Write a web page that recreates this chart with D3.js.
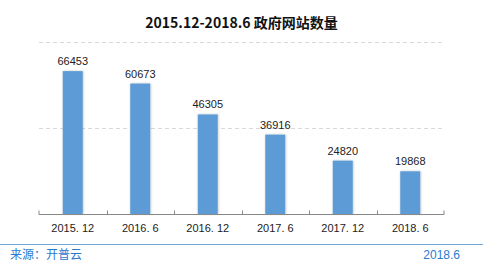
<!DOCTYPE html>
<html>
<head>
<meta charset="utf-8">
<script src="https://cdn.jsdelivr.net/npm/d3@7"></script>
<style>
  html, body { margin: 0; padding: 0; background: #fff; }
  svg { display: block; }
</style>
</head>
<body>
<div id="chart"></div>
<script>
// data
const categories = ['2015. 12', '2016. 6', '2016. 12', '2017. 6', '2017. 12', '2018. 6'];
const siteCounts = [66453, 60673, 46305, 36916, 24820, 19868];
const gridValues = [40000, 80000];
const titleText = '2015.12-2018.6 政府网站数量';
const sourceText = '来源：开普云';
const dateText = '2018.6';

const width = 483, height = 265;
const margin = { top: 42, bottom: 51, left: 39, right: 39 };
const font = '"Noto Sans CJK SC", "DejaVu Sans", sans-serif';

const svg = d3.select('#chart').append('svg')
  .attr('width', width)
  .attr('height', height);

// scales
const xScale = d3.scaleBand()
  .domain(categories)
  .range([margin.left, width - margin.right])
  .paddingInner(0)
  .paddingOuter(0);
const yScale = d3.scaleLinear()
  .domain([0, 80000])
  .range([height - margin.bottom, margin.top]);

// title
svg.append('text')
  .attr('x', width / 2)
  .attr('y', 28)
  .attr('text-anchor', 'middle')
  .attr('font-family', font)
  .attr('font-weight', 'bold')
  .attr('font-size', '14px')
  .attr('fill', '#111')
  .text(titleText);

// grid
svg.append('g')
  .selectAll('line')
  .data(gridValues)
  .enter()
  .append('line')
  .attr('x1', margin.left)
  .attr('x2', width - margin.right)
  .attr('y1', d => Math.round(yScale(d)) + 0.5)
  .attr('y2', d => Math.round(yScale(d)) + 0.5)
  .attr('stroke', '#d9d9d9')
  .attr('stroke-width', 1)
  .attr('stroke-dasharray', '4,3');

// bar shadow
const defs = svg.append('defs');
const filter = defs.append('filter')
  .attr('id', 'shadow')
  .attr('x', '-30%').attr('y', '-10%')
  .attr('width', '160%').attr('height', '120%');
filter.append('feDropShadow')
  .attr('dx', 0.5).attr('dy', 0)
  .attr('stdDeviation', 1)
  .attr('flood-color', '#000')
  .attr('flood-opacity', 0.25);

const barWidth = 20;
svg.append('g')
  .selectAll('rect')
  .data(siteCounts)
  .enter()
  .append('rect')
  .attr('x', (d, i) => xScale(categories[i]) + xScale.bandwidth() / 2 - barWidth / 2)
  .attr('y', d => yScale(d))
  .attr('width', barWidth)
  .attr('height', d => yScale(0) - yScale(d))
  .attr('fill', '#5b9bd5')
  .attr('filter', 'url(#shadow)');

// value labels
svg.append('g')
  .selectAll('text')
  .data(siteCounts)
  .enter()
  .append('text')
  .attr('x', (d, i) => xScale(categories[i]) + xScale.bandwidth() / 2)
  .attr('y', d => yScale(d) - 6)
  .attr('text-anchor', 'middle')
  .attr('font-family', '"Liberation Sans", Arial, sans-serif')
  .attr('font-size', '11px')
  .attr('fill', '#222')
  .text(d => d);

// x axis
const axisX = d3.axisBottom(xScale).tickSize(0).tickPadding(10);
const gX = svg.append('g')
  .attr('transform', 'translate(0,' + (yScale(0) + 0.5) + ')')
  .call(axisX);
gX.select('.domain')
  .attr('stroke', '#888')
  .attr('d', 'M' + margin.left + ',-4V0H' + (width - margin.right) + 'V-4');
gX.selectAll('.tick text')
  .attr('font-family', '"Liberation Sans", Arial, sans-serif')
  .attr('font-size', '11px')
  .attr('fill', '#222');
// band boundaries
gX.append('g')
  .selectAll('line')
  .data(categories.slice(1))
  .enter()
  .append('line')
  .attr('x1', d => Math.round(xScale(d)) + 0.5)
  .attr('x2', d => Math.round(xScale(d)) + 0.5)
  .attr('y1', -4)
  .attr('y2', 0)
  .attr('stroke', '#888');

// footer
svg.append('line')
  .attr('x1', 0)
  .attr('x2', width)
  .attr('y1', 244.5)
  .attr('y2', 244.5)
  .attr('stroke', '#6fa8dc')
  .attr('stroke-width', 1);
svg.append('text')
  .attr('x', 10)
  .attr('y', 259)
  .attr('font-family', font)
  .attr('font-size', '12px')
  .attr('fill', '#2a7bd0')
  .text(sourceText);
svg.append('text')
  .attr('x', 460)
  .attr('y', 259)
  .attr('text-anchor', 'end')
  .attr('font-family', '"Liberation Sans", Arial, sans-serif')
  .attr('font-size', '12px')
  .attr('fill', '#2a7bd0')
  .text(dateText);
</script>
</body>
</html>
